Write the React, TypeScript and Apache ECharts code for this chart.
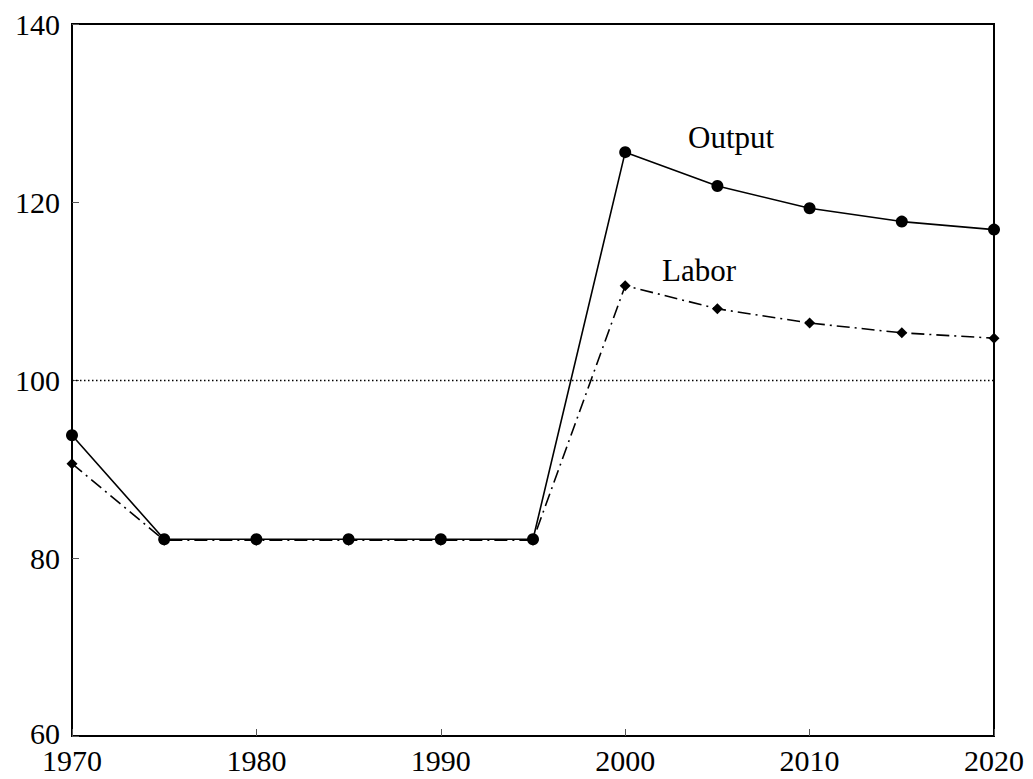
import React, { useEffect, useRef } from "react";
import * as echarts from "echarts";

const years = [1970, 1975, 1980, 1985, 1990, 1995, 2000, 2005, 2010, 2015, 2020];
const output = [93.8, 82.1, 82.1, 82.1, 82.1, 82.1, 125.6, 121.8, 119.3, 117.8, 116.9];
const labor = [90.6, 82.0, 82.0, 82.0, 82.0, 82.0, 110.6, 108.0, 106.4, 105.3, 104.7];
const referenceLevel = 100;
const xTicks = [1970, 1980, 1990, 2000, 2010, 2020];
const yTicks = [60, 80, 100, 120, 140];

const FONT = "Liberation Serif";

export default function App() {
  const ref = useRef<HTMLDivElement>(null);
  useEffect(() => {
    if (!ref.current) return;
    const chart = echarts.init(ref.current, undefined, { renderer: "svg" });
    chart.setOption({
      animation: false,
      backgroundColor: "#fff",
      grid: {
        left: 72,
        top: 24,
        right: 39,
        bottom: 43,
        show: true,
        borderColor: "#000",
        borderWidth: 2,
      },
      xAxis: {
        type: "value",
        min: xTicks[0],
        max: xTicks[xTicks.length - 1],
        interval: 10,
        axisLine: { show: true, lineStyle: { color: "#000", width: 2 } },
        axisTick: { show: true, inside: true, length: 7, lineStyle: { color: "#555" } },
        axisLabel: {
          color: "#000",
          fontFamily: FONT,
          fontSize: 30,
          lineHeight: 22,
          margin: 13,
          formatter: (v: number) => String(v),
        },
        splitLine: { show: false },
      },
      yAxis: {
        type: "value",
        min: yTicks[0],
        max: yTicks[yTicks.length - 1],
        interval: 20,
        axisLine: { show: true, lineStyle: { color: "#000", width: 2 } },
        axisTick: { show: true, inside: true, length: 7, lineStyle: { color: "#555" } },
        axisLabel: {
          color: "#000",
          fontFamily: FONT,
          fontSize: 30,
          lineHeight: 22,
          margin: 12,
          formatter: (v: number) => (v === yTicks[0] ? `{low|${v}}` : String(v)),
          rich: {
            low: { fontFamily: FONT, fontSize: 30, lineHeight: 22, padding: [0, 0, 6, 0], color: "#000" },
          },
        },
        splitLine: { show: false },
      },
      series: [
        {
          name: "Output",
          type: "line",
          data: years.map((y, i) => [y, output[i]]),
          symbol: "circle",
          symbolSize: 12,
          itemStyle: { color: "#000" },
          lineStyle: { color: "#000", width: 1.6 },
          z: 3,
          markLine: {
            silent: true,
            symbol: "none",
            label: { show: false },
            lineStyle: { color: "#000", type: [1.5, 2.5], width: 1.3 },
            data: [{ yAxis: referenceLevel }],
          },
        },
        {
          name: "Labor",
          type: "line",
          data: years.map((y, i) => [y, labor[i]]),
          symbol: "diamond",
          symbolSize: 11,
          itemStyle: { color: "#000" },
          lineStyle: { color: "#000", width: 1.6, type: [13, 5, 2, 5] },
          z: 2,
        },
      ],
      graphic: [
        {
          type: "text",
          left: 688,
          top: 122,
          style: { text: "Output", font: `31px '${FONT}'`, fill: "#000" },
        },
        {
          type: "text",
          left: 662,
          top: 255,
          style: { text: "Labor", font: `31px '${FONT}'`, fill: "#000" },
        },
      ],
    });
    return () => chart.dispose();
  }, []);
  return <div ref={ref} style={{ width: 1033, height: 779, position: "absolute", left: 0, top: 0 }} />;
}
